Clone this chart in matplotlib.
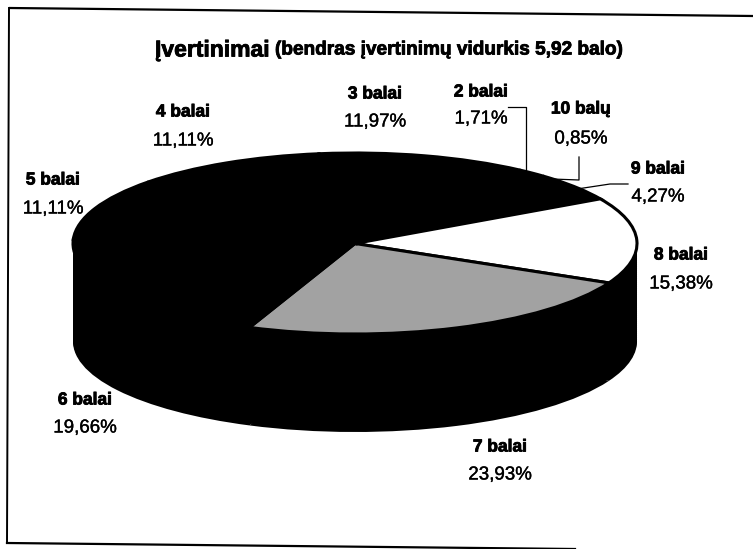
#!/usr/bin/env python
# -*- coding: utf-8 -*-
"""Scanned 3D pie of grades."""
import numpy as np
import matplotlib
matplotlib.use('Agg')
import matplotlib.pyplot as plt
import matplotlib.patheffects as pe

W, H = 753, 549

# clockwise from the top right of the pie
names = ['10 balų', '9 balai', '8 balai', '7 balai', '6 balai',
         '5 balai', '4 balai', '3 balai', '2 balai']
shares = [0.85, 4.27, 15.38, 23.93, 19.66, 11.11, 11.11, 11.97, 1.71]
share_labels = ['0,85%', '4,27%', '15,38%', '23,93%', '19,66%',
                '11,11%', '11,11%', '11,97%', '1,71%']
slice_colors = ['black', 'black', 'white', '#a2a2a2', 'black',
                'black', 'black', 'black', 'black']

# label centres in pixels: name y, share y
label_x = [581, 658, 681, 500, 85, 53, 183, 375, 481]
name_y = [109, 169, 255, 447, 400, 180, 112, 94, 92]
share_y = [139, 197, 284, 475, 428, 209, 141, 122, 119]

plt.rcParams['font.family'] = ['Liberation Sans', 'DejaVu Sans']

fig = plt.figure(figsize=(W / 100, H / 100), dpi=100, facecolor='white')

# the pie axes box is the ellipse plus the depth of the side
left, right, top, mid_bottom, bottom = 73, 637, 153, 334, 432
depth = 2.0 * (bottom - mid_bottom) / (mid_bottom - top)
ax = fig.add_axes([left / W, 1 - bottom / H, (right - left) / W, (bottom - top) / H])

for d in np.linspace(depth, 0.02, 50):
    ax.pie(shares, colors=['black'] * len(shares), startangle=48, counterclock=False,
           center=(0, -d), wedgeprops={'clip_on': False, 'linewidth': 0})
ax.pie(shares, colors=slice_colors, startangle=48, counterclock=False,
       wedgeprops={'clip_on': False, 'edgecolor': 'black', 'linewidth': 2.2})
ax.set_aspect('auto')
ax.set_xlim(-1, 1)
ax.set_ylim(-1 - depth, 1)
ax.axis('off')

# overlay in pixel coordinates for the frame, leaders and text
over = fig.add_axes([0, 0, 1, 1], facecolor='none')
over.set_xlim(0, W)
over.set_ylim(H, 0)
over.axis('off')

over.plot([10, 753], [8, 16], color='black', lw=1.6)
over.plot([9, 7], [8, 543], color='black', lw=1.4)
over.plot([7, 575], [543, 549], color='black', lw=1.6)

over.plot([508, 526, 526], [107, 107, 173], color='black', lw=0.9)
over.plot([579, 579, 552], [157, 180, 179], color='black', lw=0.9)
over.plot([577, 610, 628], [189, 184, 184], color='black', lw=0.9)

heavy = [pe.withStroke(linewidth=0.6, foreground='black')]
light = [pe.withStroke(linewidth=0.25, foreground='black')]
over.text(155, 50, 'Įvertinimai', fontsize=16.5, fontweight='bold', va='center', ha='left',
          path_effects=heavy)
over.text(275, 50, '(bendras įvertinimų vidurkis 5,92 balo)', fontsize=13.7,
          fontweight='bold', va='center', ha='left', path_effects=heavy)

for x, yn, ys, name, lab in zip(label_x, name_y, share_y, names, share_labels):
    over.text(x, yn, name, fontsize=12.5, fontweight='bold', ha='center', va='center',
              path_effects=heavy)
    over.text(x, ys, lab, fontsize=13.5, ha='center', va='center', path_effects=light)

fig.savefig('out.png', dpi=100)
